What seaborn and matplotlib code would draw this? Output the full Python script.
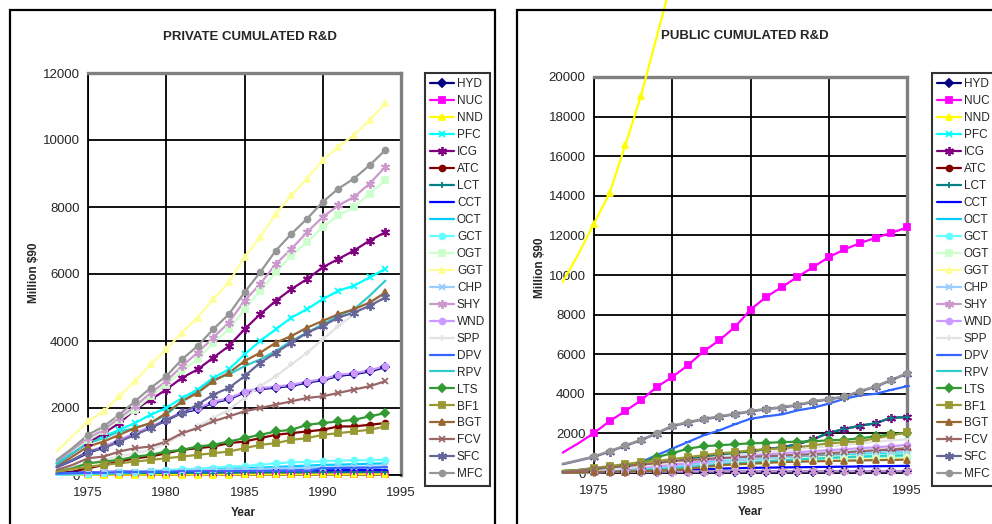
import numpy as np
import seaborn as sns
import matplotlib.pyplot as plt
from matplotlib.lines import Line2D
from matplotlib.patches import Rectangle

# ---- data -------------------------------------------------------------
series_names = ["HYD", "NUC", "NND", "PFC", "ICG", "ATC", "LCT", "CCT", "OCT", "GCT",
                "OGT", "GGT", "CHP", "SHY", "WND", "SPP", "DPV", "RPV", "LTS", "BF1",
                "BGT", "FCV", "SFC", "MFC"]

years_priv = list(range(1973, 1995))
years_pub = list(range(1973, 1996))

# private cumulated R&D, 1973-1994 (million $90)
priv_HYD = [230, 430, 660, 820, 1000, 1220, 1420, 1620, 1860, 1960, 2160, 2260, 2460, 2560, 2610, 2660, 2760, 2830, 2960, 3010, 3090, 3220]
priv_NUC = [10, 12, 15, 15, 18, 18, 20, 20, 22, 22, 24, 24, 25, 25, 26, 26, 27, 27, 28, 28, 29, 30]
priv_NND = [5, 6, 8, 8, 10, 10, 10, 12, 12, 12, 14, 14, 15, 15, 15, 16, 16, 16, 17, 17, 18, 18]
priv_PFC = [300, 650, 1000, 1150, 1350, 1550, 1800, 2000, 2300, 2550, 2900, 3150, 3600, 4000, 4350, 4700, 4950, 5250, 5500, 5650, 5900, 6150]
priv_ICG = [350, 650, 950, 1250, 1550, 1950, 2250, 2550, 2900, 3150, 3500, 3850, 4350, 4800, 5200, 5550, 5850, 6200, 6450, 6700, 7000, 7250]
priv_ATC = [50, 100, 200, 300, 400, 500, 550, 650, 750, 800, 850, 950, 1000, 1100, 1200, 1250, 1300, 1350, 1450, 1450, 1500, 1550]
priv_LCT = [20, 30, 40, 45, 50, 55, 60, 60, 65, 65, 70, 70, 75, 75, 80, 80, 80, 85, 85, 90, 90, 90]
priv_CCT = [60, 70, 80, 90, 100, 105, 110, 115, 120, 120, 125, 125, 130, 130, 135, 135, 140, 140, 145, 145, 150, 150]
priv_OCT = [10, 20, 30, 45, 60, 80, 100, 120, 140, 160, 180, 190, 200, 220, 240, 260, 280, 300, 310, 320, 335, 350]
priv_GCT = [10, 20, 40, 60, 80, 100, 130, 150, 170, 190, 220, 250, 270, 300, 350, 380, 390, 410, 430, 440, 440, 460]
priv_OGT = [380, 700, 1050, 1300, 1650, 1950, 2350, 2700, 3100, 3450, 3950, 4350, 4950, 5500, 6050, 6550, 6950, 7400, 7750, 8000, 8400, 8800]
priv_GGT = [700, 1150, 1600, 1900, 2350, 2800, 3300, 3750, 4250, 4700, 5250, 5750, 6500, 7100, 7800, 8350, 8850, 9400, 9800, 10150, 10600, 11100]
priv_CHP = [30, 50, 70, 80, 90, 100, 110, 120, 130, 140, 150, 160, 170, 180, 190, 200, 210, 220, 230, 240, 250, 260]
priv_SHY = [400, 750, 1100, 1350, 1700, 2050, 2450, 2800, 3250, 3650, 4100, 4550, 5200, 5700, 6300, 6750, 7250, 7700, 8050, 8300, 8700, 9200]
priv_WND = [250, 450, 700, 850, 1050, 1250, 1450, 1640, 1890, 1990, 2190, 2290, 2490, 2590, 2640, 2690, 2790, 2860, 2990, 3040, 3120, 3260]
priv_SPP = [150, 250, 350, 450, 550, 650, 750, 950, 1200, 1450, 1700, 1950, 2300, 2650, 2950, 3300, 3650, 4050, 4450, 4800, 5100, 5400]
priv_DPV = [40, 50, 60, 70, 80, 90, 100, 100, 110, 110, 115, 115, 120, 120, 125, 125, 130, 200, 210, 215, 220, 225]
priv_RPV = [350, 650, 950, 1100, 1300, 1400, 1550, 1800, 2200, 2500, 2850, 3000, 3250, 3450, 3700, 4000, 4250, 4500, 4750, 4950, 5350, 5800]
priv_LTS = [100, 200, 350, 400, 450, 550, 600, 700, 750, 850, 900, 1000, 1100, 1200, 1300, 1350, 1500, 1550, 1600, 1650, 1750, 1850]
priv_BF1 = [100, 180, 250, 300, 350, 400, 450, 500, 550, 600, 650, 700, 800, 900, 950, 1050, 1100, 1200, 1250, 1300, 1350, 1450]
priv_BGT = [250, 550, 850, 1000, 1200, 1400, 1550, 1850, 2200, 2450, 2800, 3050, 3400, 3650, 3950, 4150, 4400, 4600, 4800, 4950, 5150, 5450]
priv_FCV = [150, 300, 500, 550, 700, 800, 850, 1000, 1250, 1400, 1600, 1750, 1900, 2000, 2100, 2200, 2300, 2350, 2450, 2550, 2650, 2800]
priv_SFC = [250, 450, 700, 800, 1000, 1200, 1400, 1650, 1850, 2100, 2400, 2600, 2950, 3350, 3650, 3950, 4250, 4450, 4700, 4850, 5050, 5300]
priv_MFC = [450, 800, 1200, 1450, 1800, 2200, 2600, 2950, 3450, 3850, 4350, 4800, 5450, 6050, 6700, 7200, 7650, 8150, 8550, 8850, 9250, 9700]

# public cumulated R&D, 1973-1995 (million $90)
pub_HYD = [20, 30, 40, 45, 50, 55, 60, 60, 65, 65, 70, 70, 70, 75, 75, 75, 75, 80, 80, 80, 80, 80, 80]
pub_NUC = [1030, 1500, 2020, 2620, 3130, 3670, 4340, 4850, 5440, 6140, 6700, 7370, 8250, 8890, 9390, 9900, 10400, 10900, 11290, 11610, 11880, 12130, 12400]
pub_NND = [9650, 11050, 12600, 14150, 16550, 19050, 22000, 25000, 28000, 31000, 34000, 37000, 40000, 43000, 46000, 49000, 52000, 55000, 58000, 61000, 64000, 67000, 70000]
pub_PFC = [20, 40, 80, 120, 170, 220, 300, 380, 450, 520, 580, 640, 700, 750, 800, 850, 880, 910, 940, 960, 980, 1000, 1020]
pub_ICG = [50, 80, 120, 180, 250, 350, 450, 550, 700, 800, 900, 1000, 1100, 1200, 1300, 1450, 1700, 2030, 2220, 2390, 2510, 2800, 2810]
pub_ATC = [20, 30, 50, 80, 110, 150, 200, 250, 300, 350, 400, 450, 500, 550, 620, 820, 880, 950, 1000, 1050, 1100, 1130, 1160]
pub_LCT = [50, 80, 120, 180, 250, 350, 450, 550, 700, 800, 900, 1000, 1100, 1200, 1300, 1450, 1700, 2030, 2220, 2390, 2510, 2800, 2810]
pub_CCT = [30, 40, 60, 80, 100, 120, 140, 160, 180, 200, 220, 240, 260, 270, 280, 290, 300, 310, 320, 330, 340, 350, 360]
pub_OCT = [20, 40, 70, 110, 150, 200, 260, 330, 400, 460, 520, 580, 630, 680, 720, 760, 800, 840, 870, 900, 920, 940, 960]
pub_GCT = [10, 30, 50, 80, 120, 160, 210, 260, 320, 370, 420, 470, 520, 560, 600, 640, 670, 700, 730, 760, 780, 800, 820]
pub_OGT = [20, 40, 60, 90, 130, 180, 240, 300, 360, 420, 480, 540, 600, 650, 700, 740, 780, 820, 850, 880, 900, 920, 950]
pub_GGT = [10, 20, 40, 60, 90, 120, 160, 200, 250, 300, 350, 400, 450, 500, 540, 580, 610, 640, 670, 690, 710, 730, 740]
pub_CHP = [30, 50, 80, 120, 160, 210, 270, 330, 400, 470, 540, 610, 680, 740, 800, 860, 910, 960, 1000, 1030, 1060, 1080, 1100]
pub_SHY = [20, 30, 40, 50, 55, 60, 65, 70, 70, 75, 75, 80, 80, 80, 85, 85, 85, 85, 90, 90, 90, 90, 90]
pub_WND = [30, 60, 100, 150, 200, 280, 350, 420, 500, 600, 700, 800, 900, 950, 1000, 1050, 1100, 1150, 1200, 1250, 1300, 1350, 1420]
pub_SPP = [50, 80, 120, 180, 250, 330, 420, 520, 620, 720, 820, 900, 980, 1050, 1120, 1200, 1280, 1350, 1420, 1500, 1580, 1650, 1700]
pub_DPV = [100, 150, 250, 300, 400, 550, 900, 1230, 1565, 1900, 2150, 2460, 2740, 2860, 2960, 3160, 3300, 3500, 3750, 3920, 4000, 4200, 4380]
pub_RPV = [10, 20, 40, 70, 100, 140, 190, 240, 300, 360, 420, 480, 540, 590, 640, 680, 720, 760, 800, 830, 860, 880, 900]
pub_LTS = [100, 150, 200, 280, 380, 500, 800, 1000, 1230, 1350, 1400, 1450, 1500, 1520, 1560, 1580, 1600, 1650, 1680, 1750, 1850, 1950, 2030]
pub_BF1 = [100, 150, 250, 350, 450, 550, 600, 700, 800, 900, 1000, 1050, 1150, 1200, 1250, 1300, 1400, 1500, 1550, 1600, 1750, 1900, 2050]
pub_BGT = [10, 20, 50, 60, 70, 90, 120, 140, 200, 300, 390, 440, 470, 510, 555, 570, 590, 605, 620, 635, 650, 660, 673]
pub_FCV = [50, 100, 200, 280, 350, 420, 500, 600, 650, 700, 750, 780, 820, 850, 880, 920, 960, 1000, 1050, 1100, 1150, 1200, 1250]
pub_SFC = [440, 620, 810, 1080, 1370, 1650, 1990, 2360, 2545, 2710, 2830, 2970, 3100, 3220, 3300, 3420, 3590, 3720, 3840, 4110, 4360, 4680, 5020]
pub_MFC = [470, 650, 840, 1110, 1400, 1680, 2020, 2390, 2575, 2740, 2860, 3000, 3130, 3250, 3330, 3450, 3620, 3750, 3870, 4140, 4390, 4710, 5050]

priv = {n: globals()["priv_" + n] for n in series_names}
pub = {n: globals()["pub_" + n] for n in series_names}

# ---- style ------------------------------------------------------------
colors = ["#000080", "#FF00FF", "#FFFF00", "#00FFFF", "#800080", "#800000", "#008080", "#0000FF",
          "#00CCFF", "#66FFFF", "#CCFFCC", "#FFFF99", "#99CCFF", "#CC99CC", "#CC99FF", "#E3E3E3",
          "#3366FF", "#33CCCC", "#339933", "#999933", "#996633", "#996666", "#666699", "#969696"]
star = (6, 2, 0)
markers = ["D", "s", "^", "x", star, "o", "+", "_", None, "o", "s", "^",
           "x", star, "o", "+", "_", None, "D", "s", "^", "x", star, "o"]

sns.set_style("white")
plt.rcParams["font.family"] = ["Liberation Sans", "DejaVu Sans"]

W, H = 992, 524
fig = plt.figure(figsize=(W / 100, H / 100), dpi=100)


def fx(px):
    return px / W


def fy(py):
    return 1 - py / H


def msize(m):
    return 6.5 if m == star else 4.2


def draw_panel(ax_box, data, years, ymax, title, title_xy, ylab_xy, xlab_xy, leg_xy):
    l, t, r, b = ax_box
    ax = fig.add_axes([fx(l), fy(b), fx(r) - fx(l), fy(t) - fy(b)])
    handles = []
    yrs = np.array(years)
    for name, c, m in zip(series_names, colors, markers):
        vals = np.array(data[name], dtype=float)
        sns.lineplot(x=yrs, y=vals, ax=ax, color=c, lw=1.6, legend=False,
                     clip_on=False, zorder=3)
        if m is not None:
            keep = (yrs >= 1975) & (vals <= ymax)
            ax.plot(yrs[keep], vals[keep], ls="none", marker=m, color=c, ms=msize(m),
                    mew=1.3, clip_on=False, zorder=4)
        handles.append(Line2D([], [], color=c, lw=1.6, marker=m,
                              ms=msize(m) if m else 0, mew=1.3))

    ax.set_xlim(1975, 1995)
    ax.set_ylim(0, ymax)
    ax.set_xticks([1975, 1980, 1985, 1990, 1995])
    ax.set_yticks(np.arange(0, ymax + 1, 2000))
    ax.grid(True, color="black", lw=1.3)
    ax.set_axisbelow(True)
    for s in ["left", "bottom"]:
        ax.spines[s].set_color("black")
        ax.spines[s].set_linewidth(1.3)
    for s in ["top", "right"]:
        ax.spines[s].set_color("#808080")
        ax.spines[s].set_linewidth(2.4)
    ax.tick_params(axis="both", direction="out", length=3, width=1.2, color="black",
                   labelsize=9.5, pad=3)
    ax.tick_params(axis="x", pad=6)
    ax.set_xlabel("")
    ax.set_ylabel("")

    fig.text(fx(title_xy[0]), fy(title_xy[1]), title, ha="center", va="center",
             fontsize=9.5, fontweight="bold")
    fig.text(fx(ylab_xy[0]), fy(ylab_xy[1]), "Million $90", ha="center", va="center",
             rotation=90, fontsize=8.5, fontweight="bold")
    fig.text(fx(xlab_xy[0]), fy(xlab_xy[1]), "Year", ha="center", va="center",
             fontsize=8.5, fontweight="bold")

    leg = ax.legend(handles, series_names, loc="upper left",
                    bbox_to_anchor=(fx(leg_xy[0]), fy(leg_xy[1])),
                    bbox_transform=fig.transFigure, fontsize=8.5, frameon=True,
                    fancybox=False, edgecolor="black", handlelength=2.0,
                    handletextpad=0.25, labelspacing=0.42, borderpad=0.45,
                    borderaxespad=0)
    leg.get_frame().set_linewidth(1.5)
    return ax


# outer chart boxes
fig.add_artist(Rectangle((fx(10), -0.1), fx(495) - fx(10), fy(10) + 0.1,
                         transform=fig.transFigure, fill=False, ec="black", lw=1.6))
fig.add_artist(Rectangle((fx(517), -0.1), 1.2, fy(10) + 0.1,
                         transform=fig.transFigure, fill=False, ec="black", lw=1.6))

draw_panel((88, 73, 401, 475), priv, years_priv, 12000, "PRIVATE CUMULATED R&D",
           (250, 37), (34, 273), (243, 513), (425, 73))
draw_panel((594, 77, 907, 473), pub, years_pub, 20000, "PUBLIC CUMULATED R&D",
           (745, 36), (540, 268), (750, 512), (932, 73))

fig.savefig("out.png", dpi=100)
